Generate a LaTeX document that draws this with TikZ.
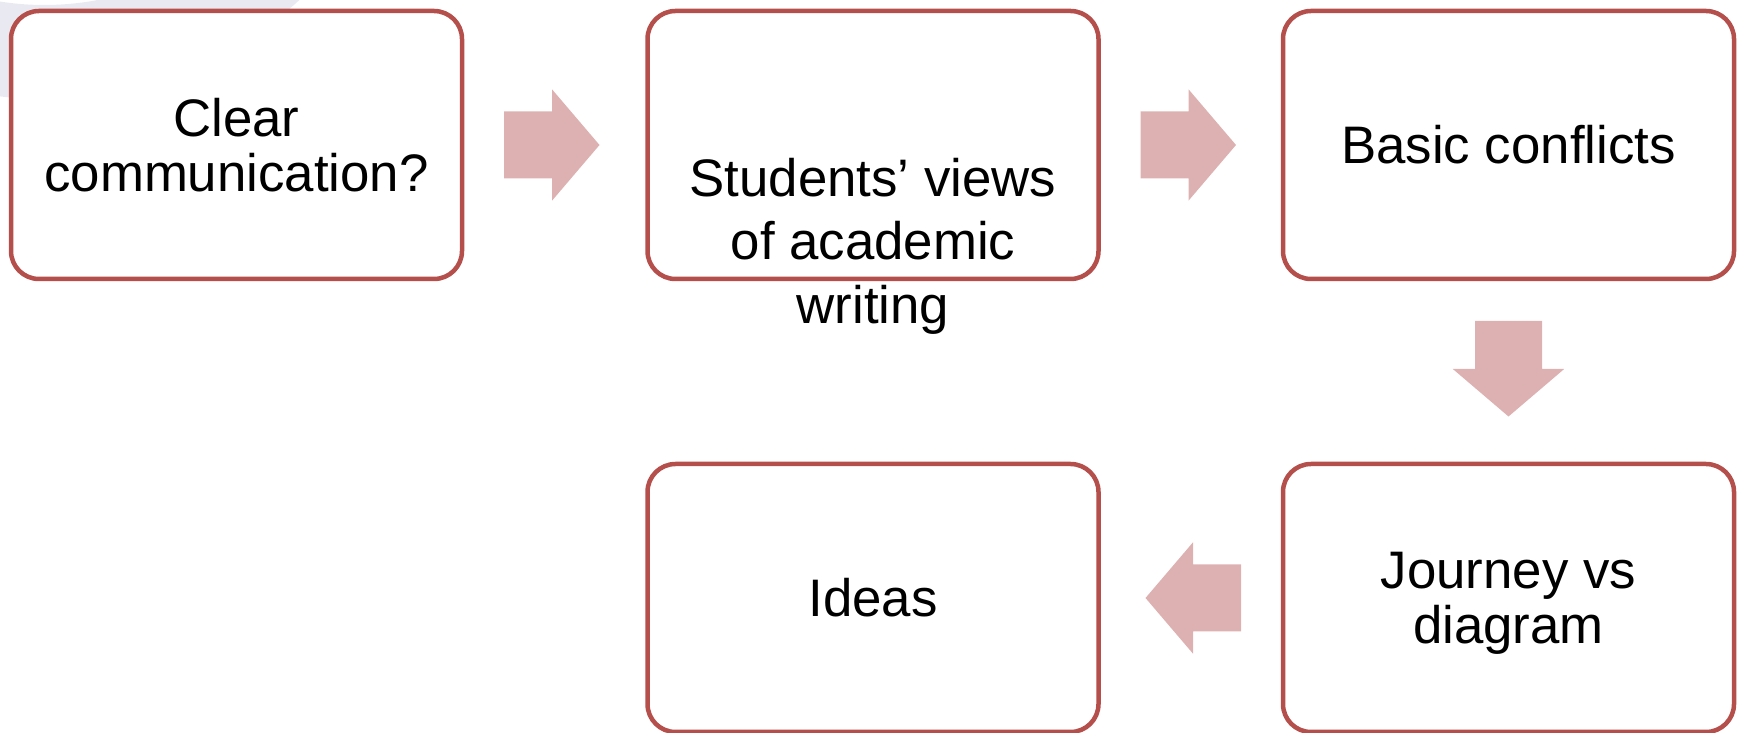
\documentclass[tikz,border=0pt]{standalone}
\usepackage{fontspec}
\setmainfont{Liberation Sans}

\definecolor{boxred}{RGB}{181,79,75}
\definecolor{arrowpink}{RGB}{221,177,177}
\definecolor{ghostgrey}{RGB}{233,233,241}

\tikzset{
    stepbox/.style={draw=boxred, line width=4.5pt, fill=white, rounded corners=28pt,
        minimum width=451pt, minimum height=268pt, inner sep=0pt, outer sep=0pt,
        align=center, font=\fontsize{52.8}{55.6}\selectfont},
    steptext/.style={inner sep=0pt, align=center, font=\fontsize{52.8}{63.4}\selectfont},
    flowarrow/.pic={
        \fill[arrowpink] (42,33.5) -- (90,33.5) -- (90,55.7) -- (137.5,0)
            -- (90,-55.7) -- (90,-33.5) -- (42,-33.5) -- cycle;
    }
}

\begin{document}
\begin{tikzpicture}[x=1pt, y=1pt]

    \useasboundingbox (0,0) rectangle (1745,733);

    % Alone sfumato in alto a sinistra
    \begin{scope}
        \clip (0,0) rectangle (1745,733);
        \fill[ghostgrey, even odd rule] (44.4,1012) circle (378) (44.4,1012) circle (284);
    \end{scope}

    % Riquadri
    \node[stepbox] (clear) at (236.5,588) {Clear\\communication?};
    \node[stepbox] (views) at (873,588) {};
    \node[steptext] (viewstext) at ([yshift=-101pt]views.center) {Students’ views\\of academic\\writing};
    \node[stepbox] (basic) at (1508.5,588) {Basic conflicts};
    \node[stepbox, text depth=0pt] (journey) at (1508.5,135) {Journey vs\\diagram};
    \node[stepbox] (ideas) at (873,135) {Ideas};

    % Frecce
    \pic at (clear.east) {flowarrow};
    \pic at (views.east) {flowarrow};
    \pic[rotate=-90] at (basic.south) {flowarrow};
    \pic[rotate=180] at (journey.west) {flowarrow};

\end{tikzpicture}
\end{document}
